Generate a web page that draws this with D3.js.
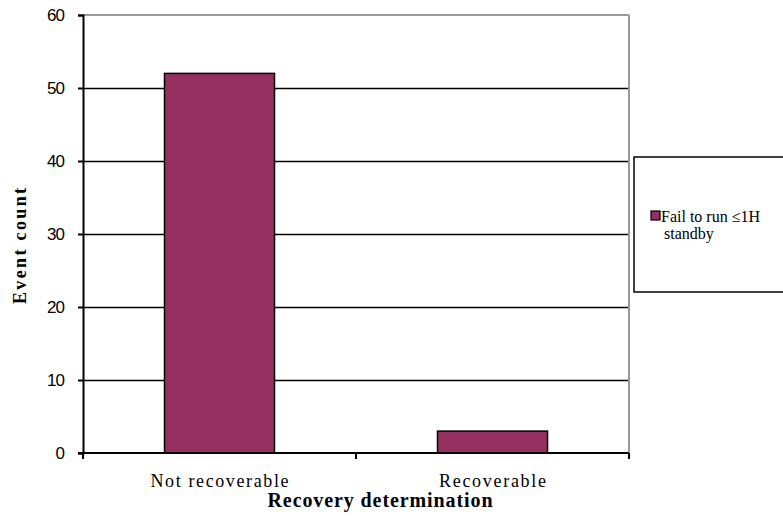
<!DOCTYPE html>
<html><head><meta charset="utf-8">
<script src="https://cdn.jsdelivr.net/npm/d3@7"></script>
<style>body{margin:0;background:#fff}svg{display:block}</style>
</head><body><svg id="c" width="783" height="516"></svg>
<script>
const categories = ["Not recoverable", "Recoverable"];
const values = [52, 3];
const yTicks = [0, 10, 20, 30, 40, 50, 60];
const seriesName = ["Fail to run \u22641H", "standby"];
const xTitle = "Recovery determination";
const yTitle = "Event count";

const serif = "Liberation Serif, DejaVu Serif, serif";
const sans = "Liberation Sans, DejaVu Sans, sans-serif";
const svg = d3.select("#c");
const L = 83, R = 629, T = 15, B = 453;
const x = d3.scaleBand().domain(categories).range([L, R]).paddingInner(0.6).paddingOuter(0.3);
const y = d3.scaleLinear().domain([0, 60]).range([B, T]);
const color = "#953060";
const labelLen = [138, 107];

// grid
svg.append("g").selectAll("line").data(yTicks.filter(d => d > 0 && d < 60)).join("line")
  .attr("x1", L).attr("x2", R).attr("y1", d => Math.round(y(d)) + 0.5).attr("y2", d => Math.round(y(d)) + 0.5)
  .attr("stroke", "#000").attr("stroke-width", 1.5);
// border top/right grey
svg.append("line").attr("x1", L).attr("x2", R).attr("y1", y(60)).attr("y2", y(60)).attr("stroke", "#999").attr("stroke-width", 2);
svg.append("line").attr("x1", R).attr("x2", R).attr("y1", T).attr("y2", B).attr("stroke", "#999").attr("stroke-width", 2);

// bars
const cx = d => x(d) + x.bandwidth() / 2;
svg.append("g").selectAll("rect").data(categories).join("rect")
  .attr("x", d => cx(d) - 55).attr("width", 110)
  .attr("y", (d, i) => y(values[i])).attr("height", (d, i) => B - y(values[i]))
  .attr("fill", color).attr("stroke", "#000").attr("stroke-width", 1.5);

// y axis
const ya = svg.append("g").attr("transform", `translate(${L},0)`)
  .call(d3.axisLeft(y).tickValues(yTicks).tickSize(5).tickFormat(d3.format("d")));
ya.select(".domain").attr("stroke", "#000").attr("stroke-width", 2);
ya.selectAll(".tick line").attr("stroke", "#000").attr("stroke-width", 2);
ya.selectAll(".tick text").attr("font-size", 17).attr("font-family", sans).attr("fill", "#000").attr("x", -19).attr("letter-spacing", -1);

// x axis
const xa = svg.append("g").attr("transform", `translate(0,${B})`);
xa.append("line").attr("x1", L - 5).attr("x2", R).attr("stroke", "#000").attr("stroke-width", 2);
const bounds = [L, (L + R) / 2, R];
xa.selectAll(".tk").data(bounds).join("line").attr("class", "tk")
  .attr("x1", d => d).attr("x2", d => d).attr("y1", 0).attr("y2", 6).attr("stroke", "#000").attr("stroke-width", 2);
xa.selectAll(".lb").data(categories).join("text").attr("class", "lb")
  .attr("x", d => cx(d)).attr("y", 34).attr("text-anchor", "middle").attr("font-family", serif)
  .attr("font-size", 18).attr("textLength", (d, i) => labelLen[i]).attr("lengthAdjust", "spacing").text(d => d);

// titles
svg.append("text").attr("x", 380).attr("y", 507).attr("text-anchor", "middle").attr("font-family", serif)
  .attr("font-size", 20).attr("font-weight", "bold").attr("textLength", 225).attr("lengthAdjust", "spacing").text(xTitle);
svg.append("text").attr("transform", "translate(26,246) rotate(-90)").attr("text-anchor", "middle").attr("font-family", serif)
  .attr("font-size", 18).attr("font-weight", "bold").attr("textLength", 116).attr("lengthAdjust", "spacing").text(yTitle);

// legend
svg.append("rect").attr("x", 634).attr("y", 157).attr("width", 160).attr("height", 135)
  .attr("fill", "#fff").attr("stroke", "#000").attr("stroke-width", 1.5);
svg.append("rect").attr("x", 651).attr("y", 211).attr("width", 9).attr("height", 9)
  .attr("fill", color).attr("stroke", "#000").attr("stroke-width", 1.2);
const lt = svg.append("text").attr("x", 661).attr("y", 222).attr("font-size", 16).attr("font-family", serif);
lt.append("tspan").text(seriesName[0]);
lt.append("tspan").attr("x", 664).attr("dy", 17).text(seriesName[1]);
</script></body></html>
